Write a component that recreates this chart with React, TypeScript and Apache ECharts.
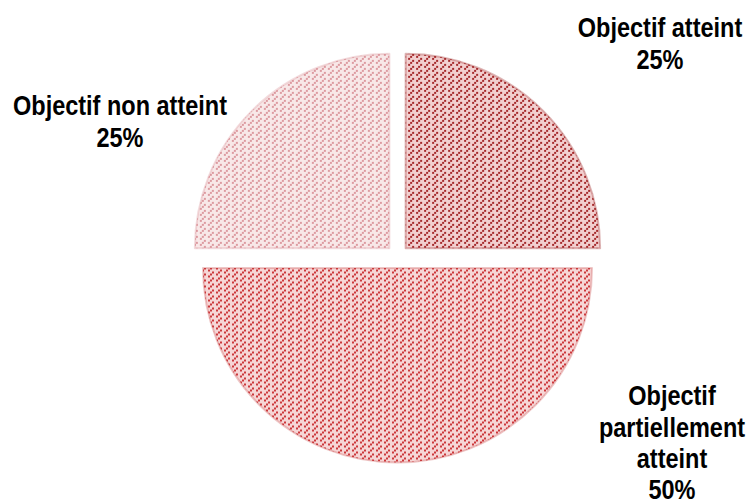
import React, { useEffect, useRef } from "react";
import * as echarts from "echarts";

const categories = ["Objectif atteint", "Objectif partiellement atteint", "Objectif non atteint"];
const labelLines = [["Objectif atteint"], ["Objectif", "partiellement", "atteint"], ["Objectif non atteint"]];
const values = [25, 50, 25];
const patternBg = ["#f2d0d0", "#f6d6d6", "#f8e8e8"];
const patternFg = ["#a52a2c", "#cb383b", "#dc9aa0"];
const edgeColors = ["rgba(160,50,50,0.35)", "rgba(200,70,70,0.3)", "rgba(215,140,145,0.3)"];

function makePattern(bg: string, fg: string): HTMLCanvasElement {
  const c = document.createElement("canvas");
  const cell = 2;
  const n = 12;
  c.width = cell * n;
  c.height = cell * n;
  const ctx = c.getContext("2d")!;
  ctx.fillStyle = bg;
  ctx.fillRect(0, 0, c.width, c.height);
  ctx.fillStyle = fg;
  for (let gy = 0; gy < n; gy++) {
    for (let gx = 0; gx < n; gx++) {
      if ((gx + gy) % 3 === 2 && gx % 4 !== 3) {
        ctx.fillRect(gx * cell, gy * cell, cell, cell);
      }
    }
  }
  return c;
}

export default function App() {
  const ref = useRef<HTMLDivElement>(null);
  useEffect(() => {
    if (!ref.current) return;
    const chart = echarts.init(ref.current, undefined, { renderer: "svg" });
    const total = values.reduce((a, b) => a + b, 0);
    const font = '"Liberation Sans", Arial, sans-serif';
    const labelPos = [
      { x: 660, y: 12 },
      { x: 672, y: 380 },
      { x: 120, y: 90 },
    ];
    const graphics = categories.map((_, i) => ({
      type: "text",
      x: labelPos[i].x,
      y: labelPos[i].y,
      scaleY: 1.2,
      style: {
        text: [...labelLines[i], `${Math.round((values[i] / total) * 100)}%`].join("\n"),
        font: `bold 23.5px ${font}`,
        fill: "#000",
        textAlign: "center",
        textVerticalAlign: "top",
        lineHeight: 26,
      },
    }));
    chart.setOption({
      animation: false,
      backgroundColor: "#ffffff",
      graphic: graphics,
      series: [
        {
          type: "pie",
          center: [397.5, 256.5],
          radius: 194.5,
          startAngle: 90,
          clockwise: true,
          selectedMode: "multiple",
          selectedOffset: 11.5,
          label: { show: false },
          labelLine: { show: false },
          emphasis: { disabled: true },
          data: categories.map((name, i) => ({
            name,
            value: values[i],
            selected: true,
            itemStyle: {
              color: { image: makePattern(patternBg[i], patternFg[i]), repeat: "repeat" },
              borderWidth: 2,
              borderColor: edgeColors[i],
            },
          })),
        },
      ],
    } as any);
    return () => chart.dispose();
  }, []);
  return <div ref={ref} style={{ position: "fixed", left: 0, top: 0, width: 751, height: 504 }} />;
}
